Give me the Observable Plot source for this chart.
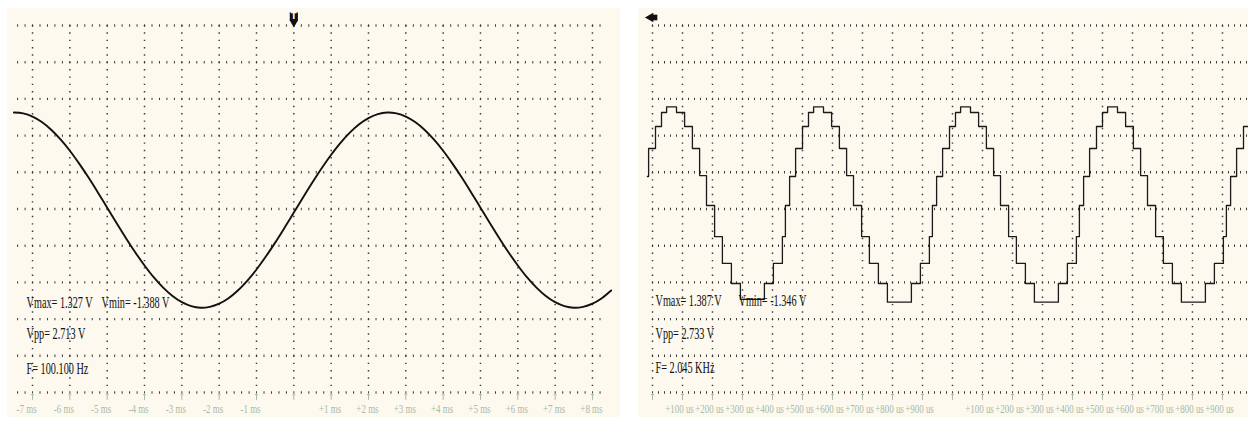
<!DOCTYPE html>
<html><head><meta charset="utf-8">
<script src="https://cdn.jsdelivr.net/npm/d3@7"></script>
<script src="https://cdn.jsdelivr.net/npm/@observablehq/plot@0.6"></script>
<style>
html,body{margin:0;padding:0;background:#fff;}
#root{position:relative;width:1248px;height:423px;overflow:hidden;background:#fff;}
.bg{position:absolute;background:#fdf9ef;}
.panel{position:absolute;top:0;width:630px;height:423px;}
</style></head><body>
<div id="root">
  <div class="bg" style="left:7px;top:8px;width:613px;height:409px"></div>
  <div class="bg" style="left:638px;top:8px;width:610px;height:409px"></div>
  <div class="panel" id="left" style="left:0px"></div>
  <div class="panel" id="right" style="left:630px"></div>
</div>
<script>
// ---------- data ----------
const voltGrid = [-2.5,-2,-1.5,-1,-0.5,0,0.5,1,1.5,2,2.5];

// left scope: 1 ms / div
const leftMajorMs = [-7,-6,-5,-4,-3,-2,-1,0,1,2,3,4,5,6,7,8];
const leftTickMs = [-7,-6,-5,-4,-3,-2,-1,1,2,3,4,5,6,7,8];
const leftTickLabels = ["-7 ms","-6 ms","-5 ms","-4 ms","-3 ms","-2 ms","-1 ms","+1 ms","+2 ms","+3 ms","+4 ms","+5 ms","+6 ms","+7 ms","+8 ms"];
const leftTimeMs = [-7.5,-7.25,-7,-6.75,-6.5,-6.25,-6,-5.75,-5.5,-5.25,
  -5,-4.75,-4.5,-4.25,-4,-3.75,-3.5,-3.25,-3,-2.75,
  -2.5,-2.25,-2,-1.75,-1.5,-1.25,-1,-0.75,-0.5,-0.25,
  0,0.25,0.5,0.75,1,1.25,1.5,1.75,2,2.25,
  2.5,2.75,3,3.25,3.5,3.75,4,4.25,4.5,4.75,
  5,5.25,5.5,5.75,6,6.25,6.5,6.75,7,7.25,
  7.5,7.75,8,8.25,8.5];
const leftVolts = [1.315,1.303,1.260,1.185,1.080,0.948,0.794,0.618,0.428,0.226,
  0.018,-0.190,-0.394,-0.589,-0.769,-0.932,-1.071,-1.185,-1.269,-1.323,
  -1.345,-1.333,-1.290,-1.215,-1.110,-0.978,-0.824,-0.648,-0.458,-0.256,
  -0.048,0.160,0.364,0.559,0.739,0.902,1.041,1.155,1.239,1.293,
  1.315,1.303,1.260,1.185,1.080,0.948,0.794,0.618,0.428,0.226,
  0.018,-0.190,-0.394,-0.589,-0.769,-0.932,-1.071,-1.185,-1.269,-1.323,
  -1.345,-1.333,-1.290,-1.215,-1.110];
const leftReadouts = ["Vmax= 1.327 V", "Vmin= -1.388 V", "Vpp= 2.713 V", "F= 100.100 Hz"];

// right scope: 100 us / div
const rightMajorUs = [0,100,200,300,400,500,600,700,800,900,1000,1100,1200,1300,1400,1500,1600,1700,1800,1900];
const rightTickUs = [100,200,300,400,500,600,700,800,900,1100,1200,1300,1400,1500,1600,1700,1800,1900];
const rightTickLabels = ["+100 us","+200 us","+300 us","+400 us","+500 us","+600 us","+700 us","+800 us","+900 us",
  "+100 us","+200 us","+300 us","+400 us","+500 us","+600 us","+700 us","+800 us","+900 us"];
const rightStepUs = [-17,-13,10,30,
  47,80,107,133,157,180,207,233,263,293,373,403,433,443,457,477,500,520,
  537,570,597,623,647,670,697,723,753,783,863,893,923,933,947,967,990,1010,
  1027,1060,1087,1113,1137,1160,1187,1213,1243,1273,1353,1383,1413,1423,1437,1457,1480,1500,
  1517,1550,1577,1603,1627,1650,1677,1703,1733,1763,1843,1873,1903,1913,1927,1947,1970,1990,
  2010];
const rightStepVolts = [0.443,0.824,1.124,1.315,
  1.39,1.315,1.124,0.824,0.456,0.048,-0.375,-0.742,-1.015,-1.23,-1.015,-0.742,-0.375,0.048,0.443,0.824,1.124,1.315,
  1.39,1.315,1.124,0.824,0.456,0.048,-0.375,-0.742,-1.015,-1.27,-1.015,-0.742,-0.375,0.048,0.443,0.824,1.124,1.315,
  1.39,1.315,1.124,0.824,0.456,0.048,-0.375,-0.742,-1.015,-1.27,-1.015,-0.742,-0.375,0.048,0.443,0.824,1.124,1.315,
  1.39,1.315,1.124,0.824,0.456,0.048,-0.375,-0.742,-1.015,-1.27,-1.015,-0.742,-0.375,0.048,0.443,0.824,1.124,1.315,
  1.39];
const rightReadouts = ["Vmax= 1.387 V", "Vmin= -1.346 V", "Vpp= 2.733 V", "F= 2.045 KHz"];

// ---------- styles ----------
const GRID = "#3c3c3c", AXIS = "#a8baa8", INK = "#111";
const SERIF = "Liberation Serif, Times New Roman, serif";
const plotStyle = {background: "transparent", overflow: "visible", maxWidth: "none"};

function readoutMarks(lines, dx0, dxMin, dys) {
  const common = {frameAnchor: "top-left", textAnchor: "start", lineAnchor: "bottom",
    fontSize: 16, fontFamily: SERIF, fill: INK, text: d => d};
  return [
    Plot.text([lines[0]], {...common, dx: dx0, dy: dys[0]}),
    Plot.text([lines[1]], {...common, dx: dxMin, dy: dys[0]}),
    Plot.text([lines[2]], {...common, dx: dx0, dy: dys[1]}),
    Plot.text([lines[3]], {...common, dx: dx0, dy: dys[2]})
  ];
}

// ---------- left scope ----------
const leftData = leftTimeMs.map((t, i) => ({t, v: leftVolts[i]}));
const leftTicks = leftTickMs.map((t, i) => ({t, label: leftTickLabels[i]}));
const leftPlot = Plot.plot({
  width: 630, height: 423,
  marginLeft: 17.1, marginRight: 23.1, marginTop: 25, marginBottom: 31,
  x: {domain: [-7.4, 8.4], axis: null},
  y: {domain: [-2.5, 2.5], axis: null},
  style: plotStyle,
  marks: [
    Plot.ruleY(voltGrid, {stroke: GRID, strokeWidth: 2.4, strokeDasharray: "1,6.467"}),
    Plot.ruleX(leftMajorMs, {stroke: GRID, strokeWidth: 1.5, strokeDasharray: "1.4,5.94"}),
    Plot.vector(leftMajorMs, {x: d => d, y: -2.5, length: 6, rotate: 0, anchor: "start", dy: 7, stroke: AXIS, strokeWidth: 1}),
    Plot.text(leftTicks.filter(d => d.t < 0), {x: "t", y: -2.5, text: "label", dy: 16, dx: -6, fill: AXIS, fontSize: 13, fontFamily: SERIF}),
    Plot.text(leftTicks.filter(d => d.t > 0), {x: "t", y: -2.5, text: "label", dy: 16, dx: -1, fill: AXIS, fontSize: 13, fontFamily: SERIF}),
    Plot.line(leftData, {x: "t", y: "v", stroke: INK, strokeWidth: 1.9, curve: "catmull-rom"}),
    ...readoutMarks(leftReadouts, 9, 84, [282, 313, 348]),
    Plot.dot([0], {x: d => d, y: 2.5, symbol: "square", r: 4.6, fill: INK, dy: -9}),
    Plot.dot([0], {x: d => d, y: 2.5, symbol: "triangle", rotate: 180, r: 3.2, fill: INK, dy: -3}),
    Plot.text(["T"], {x: 0, y: 2.5, text: d => d, dy: -9, fill: "#fff", fontSize: 8, fontWeight: "bold", fontFamily: "DejaVu Sans"})
  ]
});
document.getElementById("left").append(leftPlot);

// ---------- right scope ----------
const rightData = rightStepUs.map((t, i) => ({t, v: rightStepVolts[i]}));
const rightTicks = rightTickUs.map((t, i) => ({t, label: rightTickLabels[i]}));
const rightPlot = Plot.plot({
  width: 630, height: 423,
  marginLeft: 22, marginRight: 8, marginTop: 25, marginBottom: 31,
  x: {domain: [0, 2000], axis: null},
  y: {domain: [-2.5, 2.5], axis: null},
  style: plotStyle,
  marks: [
    Plot.ruleY(voltGrid, {stroke: GRID, strokeWidth: 2.4, strokeDasharray: "1,5"}),
    Plot.ruleX(rightMajorUs, {stroke: GRID, strokeWidth: 1.5, strokeDasharray: "1.4,5.94"}),
    Plot.vector(rightMajorUs, {x: d => d, y: -2.5, length: 6, rotate: 0, anchor: "start", dy: 7, stroke: AXIS, strokeWidth: 1}),
    Plot.text(rightTicks, {x: "t", y: -2.5, text: "label", dy: 16, dx: -3, fill: AXIS, fontSize: 13, fontFamily: SERIF}),
    Plot.line(rightData, {x: "t", y: "v", stroke: "#1a1a1a", strokeWidth: 1.3, curve: "step-after"}),
    ...readoutMarks(rightReadouts, 3, 86, [280, 313, 347]),
    Plot.dot([0], {x: d => d, y: 2.5, symbol: "square", r: 3.2, fill: INK, dx: 2, dy: -8}),
    Plot.dot([0], {x: d => d, y: 2.5, symbol: "triangle", rotate: -90, r: 3.6, fill: INK, dx: -2, dy: -8})
  ]
});
document.getElementById("right").append(rightPlot);

// condense serif glyphs horizontally (narrow scope font): wrap each text in a
// <g> that scales x about the text's own anchor point
function condense(svg) {
  const ns = "http://www.w3.org/2000/svg";
  Array.from(svg.querySelectorAll("text")).forEach(el => {
    const fs = parseFloat(getComputedStyle(el).fontSize);
    let f = null;
    if (fs >= 15) f = 0.64; else if (fs >= 11) f = 0.69;
    if (!f) return;
    const anchor = getComputedStyle(el).textAnchor;
    const bb = el.getBBox();
    const parent = el.parentNode;
    const m = parent.getCTM().inverse().multiply(el.getCTM());
    const p = svg.createSVGPoint();
    p.x = anchor === "middle" ? bb.x + bb.width / 2 : anchor === "end" ? bb.x + bb.width : bb.x;
    p.y = bb.y;
    const q = p.matrixTransform(m);
    const g = document.createElementNS(ns, "g");
    g.setAttribute("transform", `translate(${q.x},0) scale(${f},1) translate(${-q.x},0)`);
    parent.insertBefore(g, el);
    g.appendChild(el);
  });
}
condense(leftPlot);
condense(rightPlot);
</script>
</body></html>
